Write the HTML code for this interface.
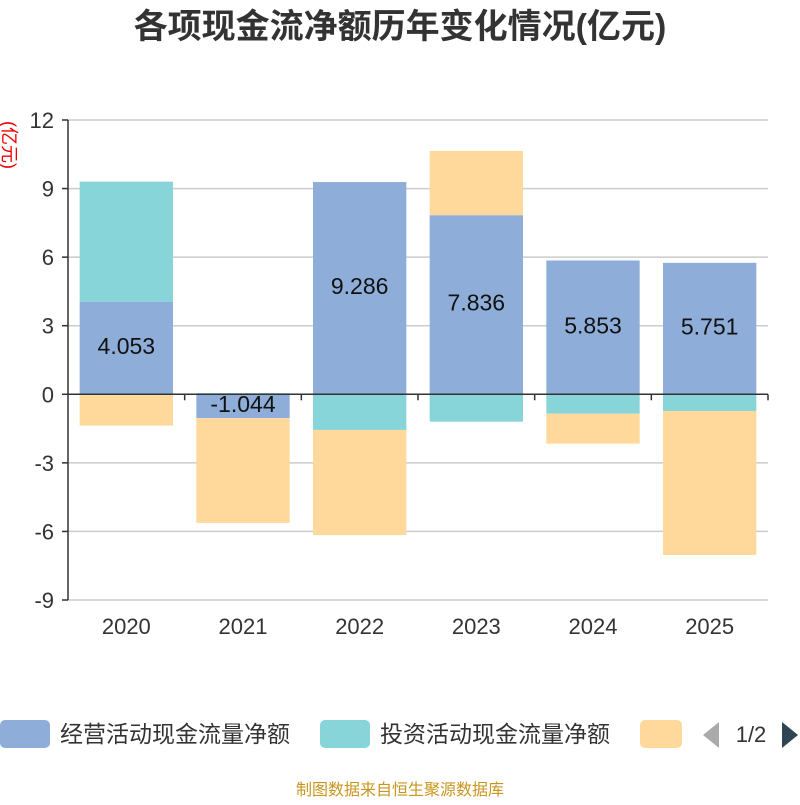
<!DOCTYPE html>
<html><head><meta charset="utf-8"><style>
body{margin:0;background:#fff;font-family:"Liberation Sans","Noto Sans CJK SC",sans-serif}
svg text{font-family:"Liberation Sans","Noto Sans CJK SC",sans-serif}
</style></head><body>
<svg id="c" width="800" height="800" xmlns="http://www.w3.org/2000/svg">
<text x="400" y="38" text-anchor="middle" font-size="34" font-weight="bold" fill="#333">各项现金流净额历年变化情况(亿元)</text>
<text x="3" y="145" font-size="18" fill="#e00" transform="rotate(90 3 145)" text-anchor="middle">(亿元)</text>
<g id="grid"></g><g id="bars"></g><g id="axes"></g>
<g>
<rect x="0" y="720" width="50" height="28" rx="5" fill="#8eaed9"/>
<text x="60" y="742" font-size="23" fill="#333">经营活动现金流量净额</text>
<rect x="320" y="720" width="50" height="28" rx="5" fill="#87d5d9"/>
<text x="380" y="742" font-size="23" fill="#333">投资活动现金流量净额</text>
<rect x="640" y="720" width="42" height="28" rx="5" fill="#fed99b"/>
<path d="M719 722 L703 735 L719 748Z" fill="#aaa"/>
<text x="751" y="742" font-size="22" fill="#333" text-anchor="middle">1/2</text>
<path d="M782 722 L798 735 L782 748Z" fill="#2f4554"/>
</g>
<text x="400" y="795" font-size="16" fill="#c8961e" text-anchor="middle">制图数据来自恒生聚源数据库</text>
</svg>
<script>
const categories=["2020","2021","2022","2023","2024","2025"];
const operating=[4.053,-1.044,9.286,7.836,5.853,5.751];
const investing=[5.25,0.05,-1.56,-1.2,-0.85,-0.73];
const financing=[-1.37,-4.58,-4.6,2.81,-1.31,-6.3];
const yTicks=[12,9,6,3,0,-3,-6,-9];
const NS="http://www.w3.org/2000/svg";
const x0=68,x1=768,yTop=120,yBot=600,yMax=12,yMin=-9;
const y=v=>yTop+(yMax-v)/(yMax-yMin)*(yBot-yTop);
const band=(x1-x0)/categories.length;
function mk(t,a,p){const e=document.createElementNS(NS,t);for(const k in a)e.setAttribute(k,a[k]);p.appendChild(e);return e;}
const grid=document.getElementById('grid'),bars=document.getElementById('bars'),axes=document.getElementById('axes');
yTicks.forEach(t=>{
 if(t!==0){const l=mk('line',{x1:x0,x2:x1,y1:y(t),y2:y(t),stroke:'#ccc','stroke-width':1.5},grid);
 
 }
 const tk=mk('line',{x1:x0-6,x2:x0,y1:y(t),y2:y(t),stroke:'#333','stroke-width':1.5},axes);
 
 
 const tx=mk('text',{x:x0-14,y:y(t)+8,'text-anchor':'end','font-size':22,fill:'#333'},axes);tx.textContent=t;
 
 
});
const series=[[operating,'#8eaed9','operating'],[investing,'#87d5d9','investing'],[financing,'#fed99b','financing']];
categories.forEach((c,i)=>{
 let pos=0,neg=0;const bx=x0+band*i+band*0.1,bw=band*0.8;
 series.forEach(([arr,col,nm])=>{
  const v=arr[i];let a,b;
  if(v>=0){a=pos;b=pos+v;pos=b;}else{a=neg;b=neg+v;neg=b;}
  const r=mk('rect',{x:bx,y:Math.min(y(a),y(b)),width:bw,height:Math.abs(y(a)-y(b)),fill:col},bars);
  
  
  if(nm==='operating'){
   const t=mk('text',{x:bx+bw/2,y:(y(a)+y(b))/2+6,'text-anchor':'middle','font-size':23,fill:'#111'},bars);t.textContent=v.toFixed(3);
   
   
  }
 });
 const tk=mk('line',{x1:x0+band*(i+1),x2:x0+band*(i+1),y1:y(0),y2:y(0)+6,stroke:'#333','stroke-width':1.5},axes);
 
 
 const tx=mk('text',{x:x0+band*(i+0.5),y:634,'text-anchor':'middle','font-size':22,fill:'#333'},axes);tx.textContent=c;
 
 
});
const xa=mk('line',{x1:x0,x2:x1,y1:y(0),y2:y(0),stroke:'#333','stroke-width':1.5},axes);


const ya=mk('line',{x1:x0,x2:x0,y1:yTop,y2:yBot,stroke:'#333','stroke-width':1.5},axes);


</script>
</body></html>
